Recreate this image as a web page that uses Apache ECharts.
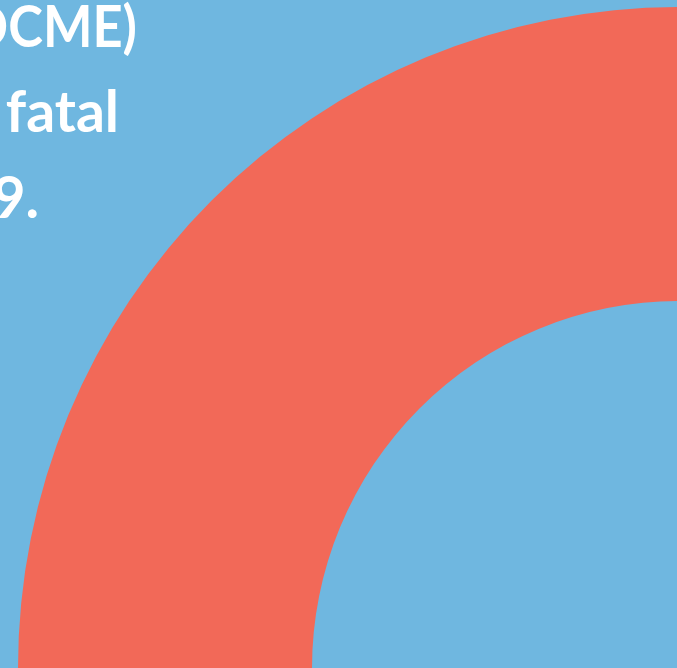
<!DOCTYPE html>
<html>
<head>
<meta charset="utf-8">
<script src="https://cdn.jsdelivr.net/npm/echarts@6/dist/echarts.min.js"></script>
<style>
html,body{margin:0;padding:0;background:#6FB7E0;}
#c{width:677px;height:668px;}
</style>
</head>
<body>
<div id="c"></div>
<script>
// Data
var categories = ['Fatal overdoses'];
var values = [100];
var colors = ['#F26958'];
var textLines = ['Chief Medical Examiner (OCME)', 'reported fatal', 'in 2019.'];

var chart = echarts.init(document.getElementById('c'), null, {renderer: 'canvas'});
var lineRight = [137, 119, 39];
var lineBottomY = [57, 142, 228];
var lineScaleX = [0.92, 1, 1];
var option = {
  backgroundColor: '#6FB7E0',
  animation: false,
  series: [{
    type: 'pie',
    center: [679, 668],
    radius: [367, 661],
    startAngle: 90,
    label: {show: false},
    labelLine: {show: false},
    emphasis: {scale: false},
    silent: true,
    itemStyle: {borderWidth: 0},
    data: categories.map(function (c, i) {
      return {name: c, value: values[i], itemStyle: {color: colors[i]}};
    })
  }],
  graphic: textLines.map(function (t, i) {
    return {
      type: 'text',
      x: lineRight[i],
      y: lineBottomY[i],
      scaleX: lineScaleX[i],
      style: {
        text: t,
        fill: '#FFFFFF',
        font: 'bold 57px Lato',
        textAlign: 'right',
        textVerticalAlign: 'bottom'
      }
    };
  })
};
chart.setOption(option);
</script>
</body>
</html>
